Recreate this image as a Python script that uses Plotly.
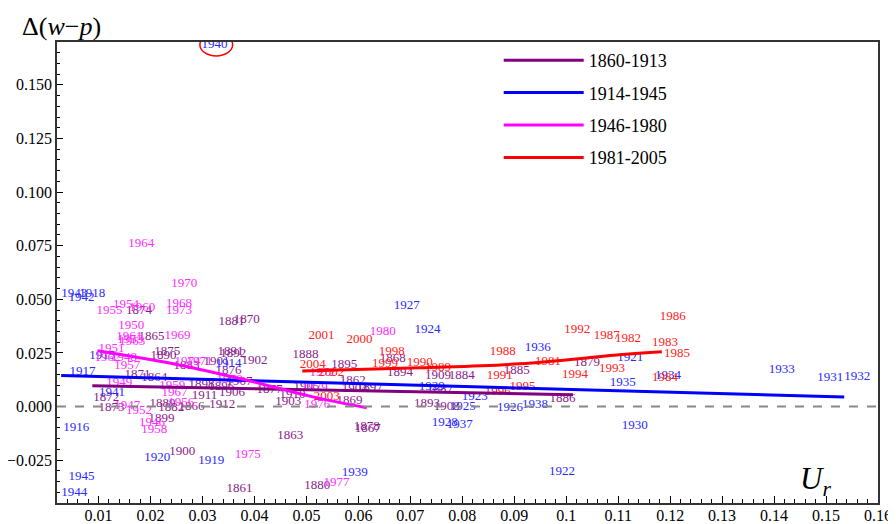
import plotly.graph_objects as go

# ---------------- data ----------------
# 1860-1913
yrs_a = [1881, 1870, 1874, 1865, 1875, 1890, 1883, 1871, 1864, 1872, 1873, 1889, 1882,
         1866, 1912, 1899, 1900, 1861, 1863, 1880, 1878, 1867, 1903, 1891, 1892, 1901,
         1902, 1876, 1898, 1896, 1906, 1911, 1907, 1877, 1910, 1905, 1869, 1862, 1904,
         1897, 1888, 1895, 1868, 1894, 1909, 1884, 1885, 1879, 1887, 1893, 1908, 1886]
ur_a = [0.0356, 0.0385, 0.0178, 0.0202, 0.0232, 0.0225, 0.0269, 0.0175, 0.0207, 0.0115,
        0.0125, 0.0223, 0.0240, 0.0279, 0.0338, 0.0221, 0.0261, 0.0371, 0.0469, 0.0521,
        0.0616, 0.0618, 0.0465, 0.0354, 0.0359, 0.0327, 0.0400, 0.0350, 0.0298, 0.0336,
        0.0357, 0.0304, 0.0371, 0.0429, 0.0473, 0.0500, 0.0583, 0.0589, 0.0593, 0.0622,
        0.0498, 0.0573, 0.0666, 0.0680, 0.0753, 0.0799, 0.0905, 0.1040, 0.0757, 0.0732,
        0.0770, 0.0993]
dwp_a = [0.0395, 0.0404, 0.0446, 0.0325, 0.0255, 0.0236, 0.0190, 0.0148, 0.0134, 0.0041,
         -0.0006, 0.0013, -0.0006, -0.0001, 0.0008, -0.0057, -0.0211, -0.0384, -0.0137,
         -0.0370, -0.0095, -0.0104, 0.0020, 0.0255, 0.0246, 0.0208, 0.0213, 0.0166,
         0.0101, 0.0092, 0.0064, 0.0050, 0.0115, 0.0078, 0.0055, 0.0092, 0.0027, 0.0120,
         0.0083, 0.0087, 0.0241, 0.0194, 0.0222, 0.0157, 0.0143, 0.0143, 0.0166, 0.0204,
         0.0078, 0.0013, -0.0001, 0.0036]

# 1914-1945
yrs_b = [1940, 1943, 1918, 1942, 1915, 1917, 1941, 1916, 1945, 1944, 1920, 1919, 1914,
         1927, 1924, 1936, 1921, 1935, 1934, 1933, 1931, 1932, 1930, 1922, 1939, 1928,
         1937, 1926, 1938, 1923, 1925, 1929]
ur_b = [0.0323, 0.0053, 0.0088, 0.0067, 0.0107, 0.0069, 0.0126, 0.0057, 0.0067, 0.0053,
        0.0213, 0.0317, 0.0350, 0.0693, 0.0733, 0.0945, 0.1123, 0.1109, 0.1196, 0.1415,
        0.1508, 0.1560, 0.1132, 0.0992, 0.0593, 0.0766, 0.0795, 0.0892, 0.0940, 0.0824,
        0.0801, 0.0741]
dwp_b = [0.1687, 0.0526, 0.0526, 0.0507, 0.0236, 0.0162, 0.0064, -0.0099, -0.0328, -0.0403,
         -0.0239, -0.0253, 0.0199, 0.0470, 0.0358, 0.0274, 0.0227, 0.0111, 0.0143, 0.0171,
         0.0134, 0.0139, -0.0090, -0.0305, -0.0309, -0.0076, -0.0085, -0.0006, 0.0008,
         0.0045, -0.0001, 0.0092]

# 1946-1980
yrs_c = [1964, 1970, 1954, 1955, 1960, 1968, 1973, 1950, 1969, 1961, 1953, 1963, 1951,
         1974, 1971, 1962, 1948, 1957, 1949, 1959, 1967, 1947, 1952, 1956, 1946, 1958,
         1975, 1977, 1976, 1979, 1972, 1980, 1978]
ur_c = [0.0182, 0.0265, 0.0153, 0.0121, 0.0184, 0.0255, 0.0255, 0.0163, 0.0252, 0.0159,
        0.0161, 0.0165, 0.0125, 0.0271, 0.0294, 0.0117, 0.0149, 0.0155, 0.0140, 0.0242,
        0.0246, 0.0155, 0.0178, 0.0259, 0.0203, 0.0207, 0.0387, 0.0558, 0.0521, 0.0516,
        0.0531, 0.0647, 0.0352]
dwp_c = [0.0759, 0.0572, 0.0474, 0.0446, 0.0461, 0.0479, 0.0446, 0.0376, 0.0330, 0.0325,
         0.0311, 0.0302, 0.0269, 0.0208, 0.0208, 0.0227, 0.0227, 0.0190, 0.0111, 0.0097,
         0.0064, 0.0003, -0.0020, 0.0017, -0.0076, -0.0109, -0.0225, -0.0356, 0.0008,
         0.0087, 0.0157, 0.0348, 0.0125]

# 1981-2005
yrs_d = [2001, 2000, 2004, 2002, 2003, 1998, 1999, 1990, 1989, 1988, 1991, 1996, 1995,
         1992, 1981, 1994, 1987, 1982, 1993, 1986, 1983, 1985, 1984]
ur_d = [0.0529, 0.0602, 0.0512, 0.0548, 0.0539, 0.0664, 0.0651, 0.0718, 0.0753, 0.0878,
        0.0872, 0.0868, 0.0916, 0.1021, 0.0965, 0.1017, 0.1078, 0.1119, 0.1088, 0.1205,
        0.1190, 0.1213, 0.1190]
dwp_d = [0.0330, 0.0311, 0.0194, 0.0157, 0.0045, 0.0255, 0.0199, 0.0204, 0.0181, 0.0255,
         0.0143, 0.0069, 0.0092, 0.0358, 0.0208, 0.0148, 0.0330, 0.0316, 0.0176, 0.0418,
         0.0297, 0.0246, 0.0134]

# fitted trend lines
fit_a_x = [0.0088, 0.1013]
fit_a_y = [0.0097, 0.0055]
fit_b_x = [0.0028, 0.1535]
fit_b_y = [0.0145, 0.0044]
fit_c_x = [0.0098, 0.0255, 0.0390, 0.0512, 0.0616]
fit_c_y = [0.0260, 0.0194, 0.0120, 0.0045, -0.0006]
fit_d_x = [0.0492, 0.0718, 0.0911, 0.1103, 0.1184]
fit_d_y = [0.0166, 0.0181, 0.0199, 0.0241, 0.0255]

period_names = ["1860-1913", "1914-1945", "1946-1980", "1981-2005"]
line_colors = ["#800080", "#0000ff", "#ff00ff", "#ff0000"]
text_colors = ["#8a1a8a", "#2a2aff", "#ff2aff", "#ff2020"]

x_ticks = [0.01, 0.02, 0.03, 0.04, 0.05, 0.06, 0.07, 0.08, 0.09, 0.10,
           0.11, 0.12, 0.13, 0.14, 0.15, 0.16]
x_tick_labels = ["0.01", "0.02", "0.03", "0.04", "0.05", "0.06", "0.07", "0.08",
                 "0.09", "0.1", "0.11", "0.12", "0.13", "0.14", "0.15", "0.16"]

# ---------------- figure ----------------
SERIF = "Liberation Serif, Times New Roman, serif"
fig = go.Figure()

groups = [(yrs_a, ur_a, dwp_a), (yrs_b, ur_b, dwp_b), (yrs_c, ur_c, dwp_c), (yrs_d, ur_d, dwp_d)]
for i, (yrs, xs, ys) in enumerate(groups):
    fig.add_trace(go.Scatter(
        x=xs, y=ys, text=[str(v) for v in yrs], mode="text",
        textposition="middle center", cliponaxis=False,
        textfont=dict(family=SERIF, size=13, color=text_colors[i]),
        showlegend=False, hoverinfo="skip"))

fits = [(fit_a_x, fit_a_y), (fit_b_x, fit_b_y), (fit_c_x, fit_c_y), (fit_d_x, fit_d_y)]
for i, (fx, fy) in enumerate(fits):
    fig.add_trace(go.Scatter(
        x=fx, y=fy, mode="lines", name=period_names[i],
        line=dict(color=line_colors[i], width=3, shape="spline"),
        legendgroup=period_names[i], showlegend=True, hoverinfo="skip"))

# zero reference line
fig.add_shape(type="line", xref="paper", yref="y", x0=0, x1=1, y0=0, y1=0,
              line=dict(color="#888888", width=2, dash="dash"))

# red ellipse around the 1940 outlier
cx, cy = ur_b[0], dwp_b[0]
fig.add_shape(type="circle", xref="x", yref="y", x0=cx - 0.0028, x1=cx + 0.0035,
              y0=cy - 0.0052, y1=cy + 0.0052, line=dict(color="#ff0000", width=1.5),
              layer="above")

# the page body has an 8px default margin, so the figure is sized to fit inside it
fig.update_layout(
    width=888, height=516,
    margin=dict(l=49, r=18, t=34, b=21, autoexpand=False),
    paper_bgcolor="white", plot_bgcolor="white",
    font=dict(family=SERIF, size=16, color="black"),
    showlegend=True,
    legend=dict(x=0.538, y=1.0, xanchor="left", yanchor="top",
                bgcolor="rgba(0,0,0,0)", borderwidth=0,
                font=dict(family=SERIF, size=18, color="black"),
                tracegroupgap=6, itemwidth=80),
    xaxis=dict(range=[0.002, 0.16], showgrid=False, zeroline=False, automargin=False,
               tickmode="array", tickvals=x_ticks, ticktext=x_tick_labels,
               ticks="inside", ticklen=7, tickwidth=1, tickcolor="black",
               ticklabelstandoff=-3,
               showline=True, linecolor="#333333", linewidth=1.5, mirror=True,
               minor=dict(dtick=0.002, tick0=0, ticks="inside", ticklen=4,
                          tickcolor="black", showgrid=False),
               tickfont=dict(family=SERIF, size=16)),
    yaxis=dict(range=[-0.045, 0.170], showgrid=False, zeroline=False, automargin=False,
               dtick=0.025, tick0=0, tickformat=".3f",
               ticks="inside", ticklen=6, tickwidth=1, tickcolor="black",
               showline=True, linecolor="#333333", linewidth=1.5, mirror=True,
               minor=dict(dtick=0.005, tick0=0, ticks="inside", ticklen=3,
                          tickcolor="black", showgrid=False),
               tickfont=dict(family=SERIF, size=16)),
)

# axis titles placed as in the reference
fig.add_annotation(xref="paper", yref="paper", x=-0.045, y=1.0347, xanchor="left", yanchor="middle",
                   showarrow=False,
                   text="\u0394(<i>w</i>\u2212<i>p</i>)",
                   font=dict(family=SERIF, size=26, color="black"))
fig.add_annotation(xref="paper", yref="paper", x=0.902, y=0.0, xanchor="left", yanchor="bottom",
                   showarrow=False,
                   text="<i>U</i><sub><i>r</i></sub>",
                   font=dict(family=SERIF, size=31, color="black"))

fig.write_html("out.html")
